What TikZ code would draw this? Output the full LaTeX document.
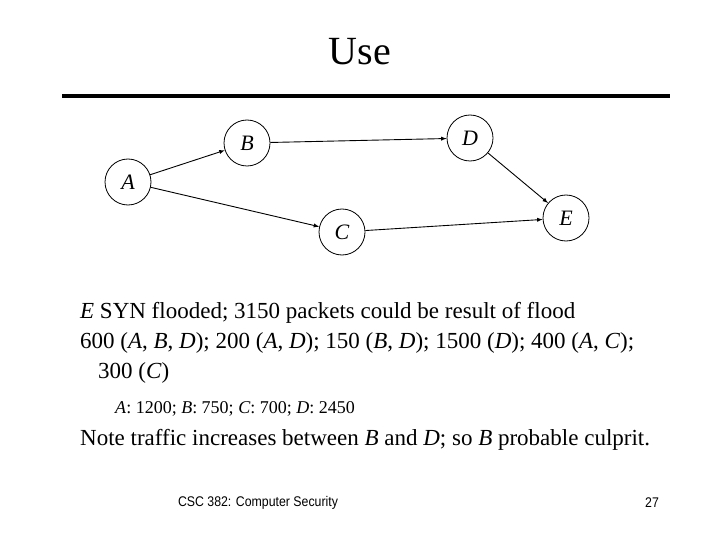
\documentclass[tikz,border=0pt]{standalone}
\usepackage{fontspec}
\setmainfont{Liberation Serif}
\newfontfamily\footfont{Liberation Sans}
\begin{document}
\begin{tikzpicture}[x=1pt,y=-1pt,
  vert/.style={circle,draw,line width=0.8pt,minimum size=46pt,inner sep=0pt,font=\fontsize{22}{22}\selectfont\itshape},
  edge/.style={-latex,line width=0.9pt},
  body/.style={anchor=west,inner sep=0pt,font=\fontsize{23}{26}\selectfont}]
\useasboundingbox (0,0) rectangle (720,540);
\node (title) at (360,52) {\fontsize{40}{44}\selectfont Use};
\coordinate (l1) at (62,96); \coordinate (l2) at (670,96);
\draw[line width=4pt] (l1) -- (l2);
\node[vert] (A) at (128,182) {A};
\node[vert] (B) at (247,143) {B};
\node[vert] (D) at (470,138) {D};
\node[vert] (E) at (566,218) {E};
\node[vert] (C) at (342,232) {C};
\draw[edge] (A) -- (B);
\draw[edge] (B) -- (D);
\draw[edge] (D) -- (E);
\draw[edge] (A) -- (C);
\draw[edge] (C) -- (E);
\node[body] (t1) at (80,313) {\textit{E} SYN flooded; 3150 packets could be result of flood};
\node[body] (t2) at (80,343) {600 (\textit{A}, \textit{B}, \textit{D}); 200 (\textit{A}, \textit{D}); 150 (\textit{B}, \textit{D}); 1500 (\textit{D}); 400 (\textit{A}, \textit{C});};
\node[body] (t3) at (98,373) {300 (\textit{C})};
\node[body,font=\fontsize{18}{20}\selectfont] (t4) at (115,409) {\textit{A}: 1200; \textit{B}: 750; \textit{C}: 700; \textit{D}: 2450};
\node[body] (t5) at (80,440) {Note traffic increases between \textit{B} and \textit{D}; so \textit{B} probable culprit.};
\node[font=\fontsize{14}{16}\selectfont\footfont,xscale=0.88] (f1) at (258,503) {CSC 382: Computer Security};
\node[font=\fontsize{14}{16}\selectfont\footfont,xscale=0.88] (f2) at (652,503) {27};
\end{tikzpicture}
\end{document}
